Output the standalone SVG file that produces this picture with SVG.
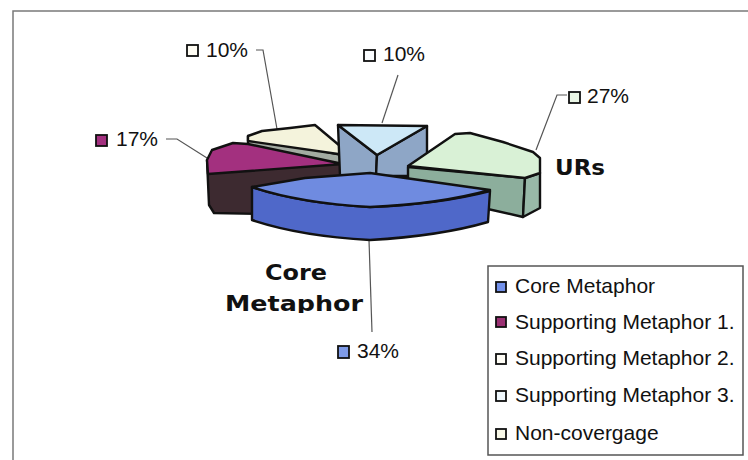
<svg xmlns="http://www.w3.org/2000/svg" width="748" height="460" viewBox="0 0 748 460">
  <style>
    .frame { fill: none; stroke: #7a7a7a; stroke-width: 1.5; }
    .face { stroke: #111; stroke-width: 2.4; stroke-linejoin: round; }
    .lead { fill: none; stroke: #555; stroke-width: 1.2; }
    .pct { font-family: "Liberation Sans", Arial, sans-serif; font-size: 21px; fill: #111; }
    .key { stroke: #111; stroke-width: 1.8; }
    .legtext { font-family: "Liberation Sans", Arial, sans-serif; font-size: 21px; fill: #111; }
    .big { font-family: "DejaVu Sans", Verdana, sans-serif; font-weight: bold; font-size: 22px; fill: #111; }
  </style>
  <defs>
    <clipPath id="cut">
      <rect x="0" y="0" width="748" height="313"/>
    </clipPath>
  </defs>

  <rect x="0" y="0" width="748" height="460" fill="#ffffff"/>
  <!-- chart frame (top and left edges) -->
  <path class="frame" d="M13,460 V11 H748"/>

  <!-- leader lines -->
  <g id="connectors">
    <path class="lead" d="M256,50 H263 L277,129"/>
    <path class="lead" d="M398,75 L382,123"/>
    <path class="lead" d="M567,95 H557 L536,150"/>
    <path class="lead" d="M166,139 H177 L207,158"/>
    <path class="lead" d="M369,240 L372,332"/>
  </g>

  <!-- Supporting Metaphor 2 (cream) -->
  <g id="slice-sm2">
    <polygon class="face" fill="#a3aba2" points="248,136 352,157 352,174 343,174 248,146"/>
    <polygon class="face" fill="#f4f3dc" points="248,136 262,131 290,128 315,125 352,156 248,141"/>
  </g>

  <!-- Supporting Metaphor 1 (magenta) -->
  <g id="slice-sm1">
    <polygon class="face" fill="#3d2a30" points="207,160 343,164 346,172 346,200 262,214 214,213 209,205"/>
    <polygon class="face" fill="#a3307f" points="207,160 212,150 233,143 248,144 343,164 208,174"/>
  </g>

  <!-- Supporting Metaphor 3 (light blue) -->
  <g id="slice-sm3">
    <polygon class="face" fill="#8ea6c6" points="338,125 377,155 376,176 340,176"/>
    <polygon class="face" fill="#8ea6c6" points="377,155 427,126 427,176 376,176"/>
    <polygon class="face" fill="#cde8f7" points="338,125 427,126 377,155"/>
  </g>

  <!-- URs (green) -->
  <g id="slice-urs">
    <polygon class="face" fill="#8cae9c" points="408,167 525,178 523,217 470,205 408,190"/>
    <polygon class="face" fill="#98b9a8" points="525,178 540,173 540,208 523,217"/>
    <polygon class="face" fill="#d9f1d6" points="408,166 455,134 470,133 503,142 533,152 540,158 540,173 525,178"/>
  </g>

  <!-- Core Metaphor (blue) -->
  <g id="slice-core">
    <path class="face" fill="#4f68c9" d="M252,187 Q300,203 370,207 Q440,204 490,191 L488,222 Q440,236 370,240 Q300,236 252,220 Z"/>
    <path class="face" fill="#6f8be0" d="M252,187 L305,178 L370,173 L490,190 Q440,204 370,207 Q300,203 252,187 Z"/>
  </g>

  <!-- data labels -->
  <g id="label-sm2">
    <rect class="key" x="187" y="45" width="11" height="11" fill="#fffdf4"/>
    <text class="pct" x="206" y="57">10%</text>
  </g>
  <g id="label-sm3">
    <rect class="key" x="364" y="50" width="11" height="11" fill="#fbfdff"/>
    <text class="pct" x="383" y="61">10%</text>
  </g>
  <g id="label-urs">
    <rect class="key" x="569" y="92" width="11" height="11" fill="#eaf6e6"/>
    <text class="pct" x="587" y="103">27%</text>
  </g>
  <g id="label-sm1">
    <rect class="key" x="96" y="135" width="11" height="11" fill="#a3307f"/>
    <text class="pct" x="116" y="146">17%</text>
  </g>
  <g id="label-core">
    <rect class="key" x="338" y="346" width="11" height="12" fill="#7f9be8"/>
    <text class="pct" x="357" y="358">34%</text>
  </g>

  <!-- category captions -->
  <g id="caption-core">
    <text class="big" x="265" y="280" textLength="62" lengthAdjust="spacingAndGlyphs">Core</text>
    <text class="big" x="225" y="311" textLength="138" lengthAdjust="spacingAndGlyphs" clip-path="url(#cut)">Metaphor</text>
  </g>
  <g id="caption-urs">
    <text class="big" x="555" y="175" textLength="50" lengthAdjust="spacingAndGlyphs">URs</text>
  </g>

  <!-- legend -->
  <g id="legend">
    <rect x="488" y="266" width="255" height="189" fill="#ffffff" stroke="#555" stroke-width="1.5"/>
    <rect class="key" x="496" y="282" width="10" height="10" fill="#7391ea"/>
    <text class="legtext" x="515" y="293">Core Metaphor</text>
    <rect class="key" x="496" y="317" width="10" height="10" fill="#9a3072"/>
    <text class="legtext" x="515" y="329">Supporting Metaphor 1.</text>
    <rect class="key" x="496" y="354" width="10" height="10" fill="#fffdf6"/>
    <text class="legtext" x="515" y="365">Supporting Metaphor 2.</text>
    <rect class="key" x="496" y="391" width="10" height="10" fill="#f0f8fd"/>
    <text class="legtext" x="515" y="402">Supporting Metaphor 3.</text>
    <rect class="key" x="496" y="429" width="10" height="10" fill="#f8f8e8"/>
    <text class="legtext" x="515" y="440">Non-covergage</text>
  </g>
</svg>
